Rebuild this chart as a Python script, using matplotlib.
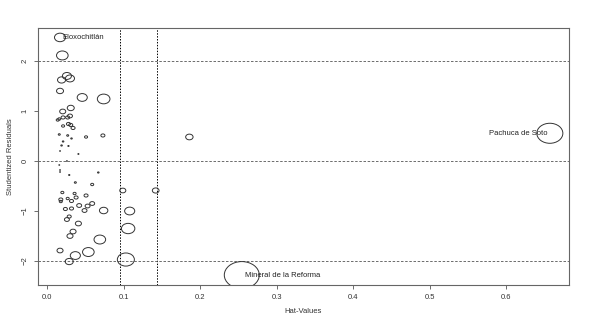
import numpy as np
import matplotlib.pyplot as plt
from matplotlib.path import Path
from matplotlib.transforms import Affine2D

plt.rcParams['font.family'] = ['Liberation Sans', 'DejaVu Sans']

# hat values, studentized residuals and cook's distance
hat = [0.017, 0.020, 0.026, 0.030, 0.019, 0.017, 0.046, 0.074, 0.031, 0.0205,
       0.014, 0.016, 0.021, 0.027, 0.030, 0.021, 0.028, 0.031, 0.034, 0.016,
       0.027, 0.032, 0.051, 0.073, 0.186, 0.021, 0.019, 0.028, 0.041, 0.017,
       0.016, 0.017, 0.017, 0.026, 0.029, 0.067, 0.037, 0.059, 0.020, 0.036,
       0.051, 0.099, 0.142, 0.018, 0.027, 0.038, 0.032, 0.018, 0.059, 0.042,
       0.053, 0.032, 0.024, 0.049, 0.074, 0.108, 0.029, 0.026, 0.041, 0.106,
       0.034, 0.030, 0.069, 0.017, 0.054, 0.037, 0.029, 0.103, 0.2545, 0.657]
rstud = [2.47, 2.11, 1.70, 1.65, 1.62, 1.40, 1.27, 1.24, 1.06, 0.99,
         0.82, 0.84, 0.87, 0.87, 0.90, 0.70, 0.74, 0.72, 0.66, 0.53,
         0.51, 0.45, 0.48, 0.51, 0.48, 0.39, 0.31, 0.30, 0.14, 0.20,
         -0.08, -0.18, -0.22, 0.00, -0.28, -0.23, -0.43, -0.47, -0.63, -0.65,
         -0.69, -0.59, -0.59, -0.77, -0.75, -0.73, -0.80, -0.81, -0.85, -0.89,
         -0.90, -0.95, -0.96, -0.99, -0.99, -1.00, -1.11, -1.17, -1.25, -1.35,
         -1.41, -1.50, -1.57, -1.79, -1.82, -1.89, -2.01, -1.97, -2.28, 0.554]
cook = [0.030, 0.033, 0.020, 0.020, 0.016, 0.012, 0.025, 0.039, 0.012, 0.009,
        0.0023, 0.0023, 0.004, 0.004, 0.006, 0.0023, 0.004, 0.004, 0.004, 0.001,
        0.001, 0.0006, 0.0023, 0.004, 0.0134, 0.0006, 0.0006, 0.0004, 0.0003, 0.0002,
        0.0002, 0.0002, 0.0002, 0.0002, 0.0004, 0.0006, 0.001, 0.0023, 0.0023, 0.0023,
        0.004, 0.009, 0.011, 0.004, 0.0023, 0.004, 0.004, 0.0023, 0.006, 0.006,
        0.006, 0.004, 0.004, 0.006, 0.0173, 0.025, 0.004, 0.006, 0.009, 0.044,
        0.009, 0.009, 0.033, 0.009, 0.033, 0.025, 0.016, 0.071, 0.30, 0.166]
labels = {0: 'Eloxochitlán', 68: 'Mineral de la Reforma', 69: 'Pachuca de Soto'}

hat = np.array(hat)
rstud = np.array(rstud)
cook = np.array(cook)

# image is stretched horizontally, so circles look like ellipses
ell = Path.unit_circle().transformed(Affine2D().scale(1.3, 1.0))
rad_px = 17.5 * np.sqrt(cook / cook.max())
sizes = (2 * rad_px * 0.72) ** 2

fig = plt.figure(figsize=(5.89, 3.21), dpi=100)
ax = fig.add_axes([0.0645, 0.112, 0.9015, 0.801])

pbar = 0.0477
ax.axvline(2 * pbar, color='black', ls=(0, (1.5, 1.5)), lw=0.7)
ax.axvline(3 * pbar, color='black', ls=(0, (1.5, 1.5)), lw=0.7)
for h in [-2, 0, 2]:
    ax.axhline(h, color='#555555', ls=(0, (3, 2)), lw=0.6)

ax.scatter(hat, rstud, s=sizes, marker=ell, facecolors='none',
           edgecolors='#333333', linewidths=0.7, zorder=3)

for i, name in labels.items():
    if i == 69:
        ax.annotate(name, (hat[i], rstud[i]), xytext=(-2, 0), textcoords='offset points',
                    ha='right', va='center', fontsize=5.5, color='#222222')
    else:
        ax.annotate(name, (hat[i], rstud[i]), xytext=(2, 0), textcoords='offset points',
                    ha='left', va='center', fontsize=5.5, color='#222222')

ax.set_xlim(-0.0118, 0.682)
ax.set_ylim(-2.48, 2.66)
ax.set_xticks([0.0, 0.1, 0.2, 0.3, 0.4, 0.5, 0.6])
ax.set_xticklabels(['0.0', '0.1', '0.2', '0.3', '0.4', '0.5', '0.6'])
ax.set_yticks([-2, -1, 0, 1, 2])
for lab in ax.get_yticklabels():
    lab.set_rotation(90)
    lab.set_va('center')
ax.tick_params(labelsize=5.5, length=3, width=0.6, color='#555555', labelcolor='#333333')
for sp in ax.spines.values():
    sp.set_linewidth(0.8)
    sp.set_color('#666666')

ax.set_xlabel('Hat-Values', fontsize=5.5, color='#333333', labelpad=5)
ax.set_ylabel('Studentized Residuals', fontsize=5.5, color='#333333', labelpad=6)

fig.savefig('out.png', dpi=100)
